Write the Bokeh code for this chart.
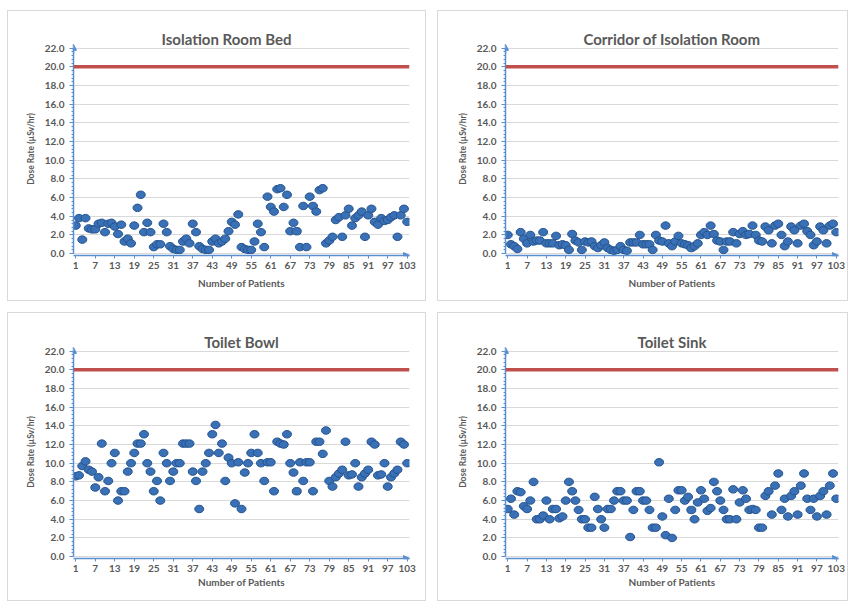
from bokeh.plotting import figure
from bokeh.layouts import column, row, Spacer
from bokeh.models import (Range1d, Span, FixedTicker, SingleIntervalTicker, Arrow,
                          NormalHead, ColumnDataSource, NumeralTickFormatter)
from bokeh.embed import file_html
from bokeh.resources import INLINE

patients = list(range(1, 104))
x_ticks = list(range(1, 104, 6))
limit = 20.0

bed = [3.0, 3.8, 1.5, 3.8, 2.7, 2.6, 2.6, 3.2, 3.3, 2.3, 3.2, 3.3, 2.9, 2.1, 3.1, 1.3, 1.6, 1.1, 3.0, 4.9,
       6.3, 2.3, 3.3, 2.3, 0.7, 1.0, 1.0, 3.2, 2.3, 0.8, 0.5, 0.4, 0.4, 1.3, 1.6, 1.1, 3.2, 2.3, 0.8, 0.5,
       0.4, 0.4, 1.3, 1.6, 1.1, 1.3, 1.6, 2.4, 3.4, 3.1, 4.2, 0.7, 0.5, 0.4, 0.4, 1.3, 3.2, 2.3, 0.7, 6.1,
       5.0, 4.5, 6.9, 7.0, 5.0, 6.3, 2.4, 3.3, 2.4, 0.7, 5.1, 0.7, 6.1, 5.1, 4.5, 6.8, 7.0, 1.1, 1.4, 1.8,
       3.6, 3.9, 1.8, 4.1, 4.8, 3.0, 3.8, 4.1, 4.5, 1.8, 4.1, 4.8, 3.4, 3.1, 3.8, 3.5, 3.6, 3.9, 4.1, 1.8,
       4.1, 4.8, 3.4]

corridor = [2.0, 1.0, 0.8, 0.5, 2.3, 1.6, 1.1, 2.0, 1.3, 1.4, 1.4, 2.3, 1.1, 1.1, 1.1, 1.9, 0.9, 1.0, 0.9, 0.4,
            2.1, 1.4, 1.2, 0.4, 1.3, 1.2, 1.3, 0.8, 0.6, 0.9, 1.2, 0.6, 0.4, 0.3, 0.4, 0.8, 0.4, 0.3, 1.2, 1.2,
            1.2, 2.0, 1.0, 1.0, 1.0, 0.4, 2.0, 1.4, 1.3, 3.0, 1.1, 0.8, 1.3, 1.9, 1.1, 1.0, 0.9, 0.6, 0.8, 1.1,
            2.0, 2.3, 2.0, 3.0, 2.1, 1.4, 1.3, 0.4, 1.3, 1.3, 2.3, 1.1, 2.1, 2.4, 2.0, 2.1, 3.0, 2.0, 1.4, 1.3,
            2.9, 2.5, 1.1, 3.0, 3.2, 2.0, 0.8, 1.3, 2.9, 2.5, 1.1, 3.0, 3.2, 2.4, 2.0, 0.9, 1.3, 2.9, 2.5, 1.1,
            3.0, 3.2, 2.3]

bowl = [8.6, 8.7, 9.7, 10.2, 9.3, 9.1, 7.4, 8.5, 12.1, 7.0, 8.1, 10.0, 11.1, 6.0, 7.0, 7.0, 9.1, 10.0, 11.1, 12.1,
        12.1, 13.1, 10.0, 9.1, 7.0, 8.1, 6.0, 11.1, 10.0, 8.1, 9.1, 10.0, 10.0, 12.1, 12.1, 12.1, 9.1, 8.1, 5.1, 9.1,
        10.0, 11.1, 13.1, 14.1, 11.1, 12.1, 8.1, 10.6, 10.0, 5.7, 10.1, 5.1, 9.0, 10.0, 11.1, 13.1, 11.1, 10.0, 8.1, 10.1,
        10.1, 7.0, 12.3, 12.1, 12.0, 13.1, 10.0, 9.0, 7.0, 10.1, 8.1, 10.1, 10.1, 7.0, 12.3, 12.3, 11.0, 13.5, 8.1, 7.5,
        8.5, 8.9, 9.3, 12.3, 8.7, 8.8, 10.0, 7.5, 8.5, 8.9, 9.3, 12.3, 12.0, 8.7, 8.8, 10.0, 7.5, 8.5, 8.9, 9.3,
        12.3, 12.0, 10.0]

sink = [5.1, 6.2, 4.5, 7.0, 6.9, 5.4, 5.1, 6.0, 8.0, 4.0, 4.0, 4.4, 6.0, 4.0, 5.1, 5.1, 4.1, 4.3, 6.0, 8.0,
        7.0, 6.0, 5.0, 4.0, 4.0, 3.1, 3.1, 6.4, 5.1, 4.0, 3.1, 5.1, 5.1, 6.0, 7.0, 7.0, 6.0, 6.0, 2.1, 5.0,
        7.0, 7.0, 6.0, 6.0, 5.0, 3.1, 3.1, 10.1, 4.3, 2.3, 6.2, 2.0, 5.0, 7.1, 7.1, 6.0, 6.4, 5.0, 4.0, 5.8,
        7.1, 6.2, 4.9, 5.2, 8.0, 7.0, 6.0, 5.0, 4.0, 4.0, 7.2, 4.0, 5.8, 7.1, 6.2, 5.0, 5.1, 5.0, 3.1, 3.1,
        6.5, 7.0, 4.5, 7.6, 8.9, 5.0, 6.2, 4.3, 6.5, 7.0, 4.5, 7.6, 8.9, 6.2, 5.0, 6.2, 4.3, 6.5, 7.0, 4.5,
        7.6, 8.9, 6.2]

FONT = "Lato"
GRAY = "#595959"
AXIS_BLUE = "#5b8fd0"
X0, X1 = 0.3, 103.7
Y0, Y1 = -0.2, 22.6


def make_panel(title, values, w, h, bl, br, bt, bb, xtitle_standoff, title_left=None):
    p = figure(width=w, height=h, output_backend="svg", toolbar_location=None,
               x_range=Range1d(X0, X1), y_range=Range1d(Y0, Y1),
               min_border_left=bl, min_border_right=br, min_border_top=bt, min_border_bottom=bb,
               styles={"border": "1px solid #d9d9d9", "box-sizing": "border-box"})
    p.outline_line_color = None
    p.title.text = title
    if title_left is None:
        p.title.align = "center"
    else:
        p.title.align = "left"
        p.title.offset = title_left
    p.title.standoff = -10
    p.title.text_font = FONT
    p.title.text_font_size = "15px"
    p.title.text_font_style = "bold"
    p.title.text_color = GRAY

    # grid
    p.xgrid.grid_line_color = None
    p.ygrid.grid_line_color = "#d9d9d9"
    p.ygrid.grid_line_width = 1

    # y axis
    yax = p.yaxis[0]
    yax.ticker = SingleIntervalTicker(interval=2, num_minor_ticks=5)
    yax.formatter = NumeralTickFormatter(format="0.0")
    yax.bounds = (0, 22)
    yax.axis_line_color = AXIS_BLUE
    yax.axis_line_width = 1.5
    yax.major_tick_line_color = AXIS_BLUE
    yax.minor_tick_line_color = AXIS_BLUE
    yax.major_tick_in = 0
    yax.major_tick_out = 4
    yax.minor_tick_in = 0
    yax.minor_tick_out = 2
    yax.major_label_text_font = FONT
    yax.major_label_text_font_size = "10px"
    yax.major_label_text_font_style = "bold"
    yax.major_label_text_color = GRAY
    yax.major_label_standoff = 5
    yax.axis_label = "Dose Rate (µSv/hr)"
    yax.axis_label_text_font = FONT
    yax.axis_label_text_font_size = "8.5px"
    yax.axis_label_text_font_style = "bold"
    yax.axis_label_text_color = GRAY
    yax.axis_label_standoff = 6

    # x axis
    xax = p.xaxis[0]
    xax.ticker = FixedTicker(ticks=x_ticks, minor_ticks=[])
    xax.bounds = (X0, 103.6)
    xax.axis_line_color = AXIS_BLUE
    xax.axis_line_width = 1.5
    xax.major_tick_line_color = AXIS_BLUE
    xax.major_tick_in = 0
    xax.major_tick_out = 3
    xax.minor_tick_line_color = None
    xax.major_label_text_font = FONT
    xax.major_label_text_font_size = "10px"
    xax.major_label_text_font_style = "bold"
    xax.major_label_text_color = GRAY
    xax.major_label_standoff = 3
    xax.axis_label = "Number of Patients"
    xax.axis_label_text_font = FONT
    xax.axis_label_text_font_size = "10px"
    xax.axis_label_text_font_style = "bold"
    xax.axis_label_text_color = GRAY
    xax.axis_label_standoff = xtitle_standoff

    # arrows at axis ends
    p.add_layout(Arrow(end=NormalHead(size=6, fill_color=AXIS_BLUE, line_color=AXIS_BLUE),
                       x_start=X0, y_start=21.4, x_end=X0, y_end=22.4,
                       line_color=AXIS_BLUE, line_width=1.5))
    p.add_layout(Arrow(end=NormalHead(size=6, fill_color=AXIS_BLUE, line_color=AXIS_BLUE),
                       x_start=101.5, y_start=Y0, x_end=103.7, y_end=Y0,
                       line_color=AXIS_BLUE, line_width=1.5))

    # limit line
    p.add_layout(Span(location=limit, dimension="width", line_color="#c0504d", line_width=3.5))

    src = ColumnDataSource(dict(x=patients, y=values))
    p.ellipse("x", "y", source=src, width=9, height=7.5, width_units="screen", height_units="screen",
              fill_color="#3a70b5", line_color="#24548f", line_width=1)
    return p


p1 = make_panel("Isolation Room Bed", bed, 419, 291, 65, 18, 31, 47, 5, title_left=88)
p2 = make_panel("Corridor of Isolation Room", corridor, 411, 291, 67, 11, 31, 47, 5)
p3 = make_panel("Toilet Bowl", bowl, 419, 289, 65, 18, 32, 44, 1)
p4 = make_panel("Toilet Sink", sink, 411, 289, 67, 11, 32, 44, 1)

grid = column(row(p1, p2, spacing=11), row(p3, p4, spacing=11), spacing=11)
layout = row(Spacer(width=7), column(Spacer(height=10), grid))

open("out.html", "w").write(file_html(layout, INLINE))
